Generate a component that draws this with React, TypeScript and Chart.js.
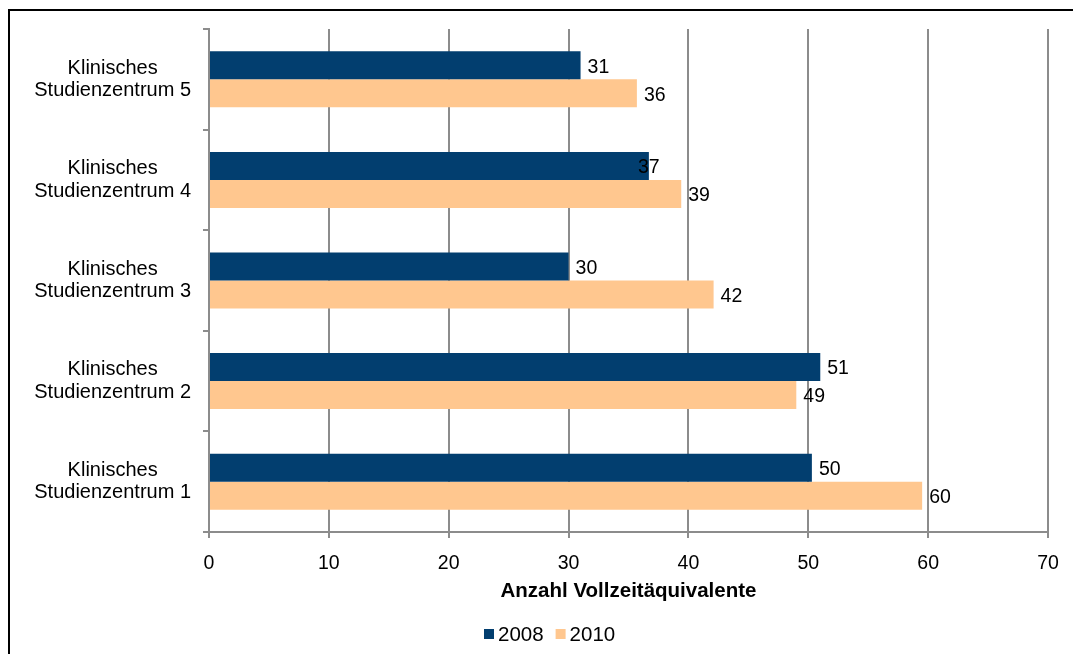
import React, { useEffect, useRef } from "react";
import { Chart, registerables } from "chart.js";

Chart.register(...registerables);

// Categories in display order (top to bottom)
const categories: string[][] = [
  ["Klinisches", "Studienzentrum 5"],
  ["Klinisches", "Studienzentrum 4"],
  ["Klinisches", "Studienzentrum 3"],
  ["Klinisches", "Studienzentrum 2"],
  ["Klinisches", "Studienzentrum 1"],
];
const seriesNames = ["2008", "2010"];
const values2008 = [31.0, 36.7, 30.0, 51.0, 50.3];
const values2010 = [35.7, 39.4, 42.1, 49.0, 59.5];
const xTickMin = 0;
const xTickMax = 70;
const xTickStep = 10;
const xAxisTitle = "Anzahl Vollzeitäquivalente";

const COLOR_2008 = "#023e6f";
const COLOR_2010 = "#ffc78f";
const GRID = "#8c8c8c";
const FONT = "'Liberation Sans', Arial, sans-serif";

const dataLabelPlugin = {
  id: "dataLabels",
  afterDatasetsDraw(chart: any) {
    const ctx = chart.ctx;
    const shifts: Record<string, number> = { "0:1": -18 };
    ctx.save();
    ctx.font = `19.5px ${FONT}`;
    ctx.fillStyle = "#000";
    ctx.textAlign = "left";
    ctx.textBaseline = "middle";
    chart.data.datasets.forEach((ds: any, di: number) => {
      const meta = chart.getDatasetMeta(di);
      meta.data.forEach((el: any, i: number) => {
        const v = ds.data[i];
        const dx = 7 + (shifts[`${di}:${i}`] || 0);
        ctx.fillText(String(Math.round(v)), el.x + dx, el.y + 2);
      });
    });
    ctx.restore();
  },
};

const legendPlugin = {
  id: "customLegend",
  afterDraw(chart: any) {
    const ctx = chart.ctx;
    ctx.save();
    ctx.font = `20.5px ${FONT}`;
    ctx.textBaseline = "middle";
    ctx.textAlign = "left";
    const y = 634;
    let x = 484;
    chart.data.datasets.forEach((ds: any) => {
      ctx.fillStyle = ds.backgroundColor;
      ctx.fillRect(x, y - 5, 10, 10);
      x += 14;
      ctx.fillStyle = "#000";
      ctx.fillText(ds.label, x, y + 1);
      x += ctx.measureText(ds.label).width + 12;
    });
    ctx.restore();
  },
};

function BarChart() {
  const ref = useRef<HTMLCanvasElement | null>(null);
  useEffect(() => {
    if (!ref.current) return;
    const chart = new Chart(ref.current, {
      type: "bar",
      data: {
        labels: categories,
        datasets: [
          {
            label: seriesNames[0],
            data: values2008,
            backgroundColor: COLOR_2008,
            borderWidth: 0,
            categoryPercentage: 0.557,
            barPercentage: 1.0,
          },
          {
            label: seriesNames[1],
            data: values2010,
            backgroundColor: COLOR_2010,
            borderWidth: 0,
            categoryPercentage: 0.557,
            barPercentage: 1.0,
          },
        ],
      },
      options: {
        indexAxis: "y",
        animation: false,
        responsive: false,
        devicePixelRatio: 1,
        layout: { padding: { top: 29, left: 0, right: 25, bottom: 0 } },
        plugins: {
          legend: { display: false },
          tooltip: { enabled: false },
          title: { display: false },
        },
        scales: {
          x: {
            type: "linear",
            position: "bottom",
            min: xTickMin,
            max: xTickMax,
            ticks: {
              stepSize: xTickStep,
              color: "#000",
              font: { family: FONT, size: 19.5 },
              padding: 14,
            },
            grid: {
              color: GRID,
              lineWidth: 2,
              drawTicks: true,
              tickLength: 6,
            },
            border: { display: true, color: GRID, width: 2 },
            title: {
              display: true,
              text: xAxisTitle,
              color: "#000",
              font: { family: FONT, size: 20.5, weight: "bold" },
              padding: { top: 0, bottom: 50 },
            },
            afterFit(scale: any) {
              scale.height = 122;
              scale.paddingLeft = 0;
              scale.paddingRight = 0;
            },
          },
          y: {
            type: "category",
            position: "left",
            ticks: {
              color: "#000",
              font: { family: FONT, size: 20, lineHeight: 1.12 },
              crossAlign: "center",
              padding: 12,
            },
            grid: {
              display: true,
              drawOnChartArea: false,
              drawTicks: true,
              tickLength: 6,
              color: GRID,
              lineWidth: 2,
              offset: true,
            },
            border: { display: true, color: GRID, width: 2 },
            afterFit(scale: any) {
              scale.width = 209;
              scale.paddingTop = 0;
              scale.paddingBottom = 0;
            },
          },
        },
      },
      plugins: [dataLabelPlugin, legendPlugin],
    } as any);
    return () => chart.destroy();
  }, []);
  return (
    <canvas
      ref={ref}
      width={1073}
      height={654}
      style={{ position: "absolute", left: 0, top: 0, width: 1073, height: 654 }}
    />
  );
}

export default function App() {
  return (
    <div style={{ position: "absolute", left: 0, top: 0, width: 1073, height: 654, overflow: "hidden", background: "#fff" }}>
      <div
        style={{
          position: "absolute",
          left: 8,
          top: 9,
          width: 1100,
          height: 700,
          borderLeft: "2px solid #000",
          borderTop: "2px solid #000",
        }}
      />
      <BarChart />
    </div>
  );
}
